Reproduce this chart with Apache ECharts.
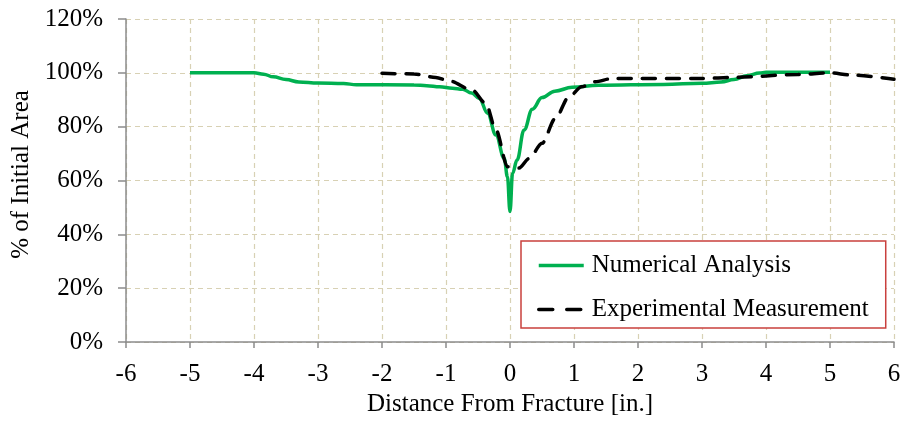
<!DOCTYPE html>
<html>
<head>
<meta charset="utf-8">
<script src="https://cdn.jsdelivr.net/npm/echarts@6/dist/echarts.min.js"></script>
<style>
  html, body { margin: 0; padding: 0; background: #fff; }
  #chart { width: 906px; height: 424px; }
</style>
</head>
<body>
<div id="chart"></div>
<script>
// Cross-section area along the specimen, as percentage of the initial area
var numX = [-5, -4, -3.85, -3.7, -3.5, -3.3, -3.0, -2.6, -2.4, -1.5, -1.3, -1.1, -0.9, -0.74, -0.6, -0.48, -0.35, -0.22, -0.09, -0.04, 0,
            0.04, 0.11, 0.22, 0.35, 0.5, 0.7, 0.97, 1.38, 2.4, 3.0, 3.3, 3.5, 3.7, 3.9, 4.0, 5.0];
var numY = [100, 100, 99.5, 98.5, 97.5, 96.6, 96.2, 96.0, 95.6, 95.5, 95.2, 94.8, 94.3, 93.9, 92.5, 90.5, 85.0, 76.9, 68.2, 61.4, 48.5,
            62.7, 67.6, 78.8, 86.5, 90.8, 93.2, 94.6, 95.4, 95.7, 96.1, 96.6, 97.5, 98.9, 99.9, 100.2, 100.2];

var expX = [-2, -1.5, -1.16, -0.95, -0.59, -0.38, -0.22, -0.04, 0.14, 0.30, 0.50, 0.71, 0.92, 1.12, 1.33, 1.6, 3.0, 3.5, 4.5, 5.0, 5.33, 6.0];
var expY = [99.8, 99.6, 98.3, 97.0, 93.6, 88.7, 78.8, 65.1, 64.6, 68.2, 73.8, 83.1, 91.1, 94.8, 96.7, 97.9, 97.9, 98.3, 99.4, 100, 99.2, 97.6];

var xTicks = { min: -6, max: 6, step: 1 };
var yTicks = { min: 0, max: 120, step: 20 };

var seriesNames = ['Numerical Analysis', 'Experimental Measurement'];

function pairs(xs, ys) {
  return xs.map(function (x, i) { return [x, ys[i]]; });
}

var FONT = '"Liberation Serif", "Times New Roman", serif';
var FS = 25;
var GREEN = '#00b050';
var gridLine = { show: true, lineStyle: { color: '#d8d1b4', type: [5, 4], width: 1.2 } };
var axisLine = { show: true, onZero: false, lineStyle: { color: '#8c8c8c', width: 1.5 } };

var chart = echarts.init(document.getElementById('chart'), null, { renderer: 'canvas' });
chart.setOption({
  animation: false,
  backgroundColor: '#fff',
  grid: { left: 126, right: 12, top: 19, bottom: 82, containLabel: false, outerBoundsMode: 'none' },
  textStyle: { fontFamily: FONT },
  xAxis: {
    type: 'value',
    min: xTicks.min, max: xTicks.max, interval: xTicks.step,
    name: 'Distance From Fracture [in.]',
    nameLocation: 'middle',
    nameGap: 50,
    nameTextStyle: { fontFamily: FONT, fontSize: FS, color: '#000' },
    axisLine: axisLine,
    axisTick: { show: true, inside: false, length: 6, lineStyle: { color: '#8c8c8c', width: 1.5 } },
    axisLabel: { fontFamily: FONT, fontSize: FS, color: '#000', margin: 20 },
    splitLine: gridLine
  },
  yAxis: {
    type: 'value',
    min: yTicks.min, max: yTicks.max, interval: yTicks.step,
    name: '% of Initial Area',
    nameLocation: 'middle',
    nameGap: 84,
    nameRotate: 90,
    nameTextStyle: { fontFamily: FONT, fontSize: FS, color: '#000', padding: [0, 0, 0, 12] },
    axisLine: axisLine,
    axisTick: { show: true, inside: false, length: 8, lineStyle: { color: '#8c8c8c', width: 1.5 } },
    axisLabel: { fontFamily: FONT, fontSize: FS, color: '#000', margin: 23, formatter: '{value}%' },
    splitLine: gridLine
  },
  legend: {
    orient: 'vertical',
    left: 521,
    top: 241,
    padding: [12, 17, 6, 16],
    itemGap: 19,
    itemWidth: 45,
    itemHeight: 25,
    borderColor: '#c9403d',
    borderWidth: 1.5,
    backgroundColor: '#fff',
    itemStyle: { color: 'rgba(0,0,0,0)', borderWidth: 0, opacity: 0 },
    textStyle: { fontFamily: FONT, fontSize: FS, color: '#000', padding: [0, 0, 0, 3] },
    data: [
      { name: seriesNames[0], lineStyle: { color: GREEN, width: 3.5, type: 'solid' } },
      { name: seriesNames[1], lineStyle: { color: '#000', width: 3.5, type: [14, 14], cap: 'round' } }
    ]
  },
  series: [
    {
      name: seriesNames[0],
      type: 'line',
      data: pairs(numX, numY),
      symbol: 'none',
      smooth: 0.4,
      smoothMonotone: 'x',
      z: 3,
      lineStyle: { color: GREEN, width: 3.5 },
      itemStyle: { color: GREEN }
    },
    {
      name: seriesNames[1],
      type: 'line',
      data: pairs(expX, expY),
      symbol: 'none',
      smooth: 0.3,
      smoothMonotone: 'x',
      z: 4,
      lineStyle: { color: '#000', width: 3.5, type: [13, 11], cap: 'round' },
      itemStyle: { color: '#000' }
    }
  ]
});
</script>
</body>
</html>
